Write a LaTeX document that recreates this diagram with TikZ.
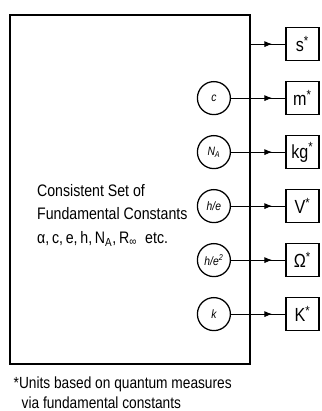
\documentclass[tikz,border=0pt]{standalone}
\usepackage{fontspec}
\setmainfont{Liberation Sans}[FakeStretch=0.85]
\usetikzlibrary{arrows.meta,decorations.markings}
\begin{document}
\begin{tikzpicture}[unit/.style={draw,line width=1.4pt,minimum size=1.1cm,inner sep=0pt,font=\fontsize{18}{18}\selectfont},const/.style={draw,circle,line width=1.2pt,minimum size=1.1cm,inner sep=0pt,font=\itshape\fontsize{11.5}{11.5}\selectfont},flow/.style={line width=0.8pt,postaction={decorate},decoration={markings,mark=at position -0.43cm with {\arrow{Latex[length=2.6mm,width=2mm]}}}}]
\useasboundingbox (0,0) rectangle (10.7,-13.7);
\node[draw,line width=1.5pt,minimum width=8cm,minimum height=11.63cm,anchor=north west] (frame) at (0.3,-0.47) {};
\node[anchor=west,align=left,inner sep=0pt,font=\fontsize{15.8}{22.5}\selectfont] (txt) at (1.23,-7.17) {Consistent Set of\\Fundamental Constants\\α,\,c,\,e,\,h,\,N\textsubscript{A},\,R\textsubscript{∞}\enspace etc.};
\node[unit] (s) at (10.08,-1.47) {s\textsuperscript{*}};
\node[unit] (m) at (10.08,-3.27) {m\textsuperscript{*}};
\node[unit] (kg) at (10.08,-5.07) {kg\textsuperscript{*}};
\node[unit] (V) at (10.08,-6.87) {V\textsuperscript{*}};
\node[unit] (ohm) at (10.08,-8.67) {Ω\textsuperscript{*}};
\node[unit] (K) at (10.08,-10.47) {K\textsuperscript{*}};
\node[const] (c) at (7.13,-3.27) {c};
\node[const] (NA) at (7.13,-5.07) {N\textsubscript{A}};
\node[const] (he) at (7.13,-6.87) {h/e};
\node[const] (hee) at (7.13,-8.67) {h/e\textsuperscript{2}};
\node[const] (k) at (7.13,-10.47) {k};
\draw[flow] (frame.east |- s) -- (s);\draw[flow] (c) -- (m);\draw[flow] (NA) -- (kg);\draw[flow] (he) -- (V);\draw[flow] (hee) -- (ohm);\draw[flow] (k) -- (K);
\node[anchor=north west,align=left,inner sep=0pt,font=\fontsize{15.3}{19.5}\selectfont] (note) at (0.45,-12.55) {*Units based on quantum measures\\\phantom{*}\,via fundamental constants};
\end{tikzpicture}
\end{document}
